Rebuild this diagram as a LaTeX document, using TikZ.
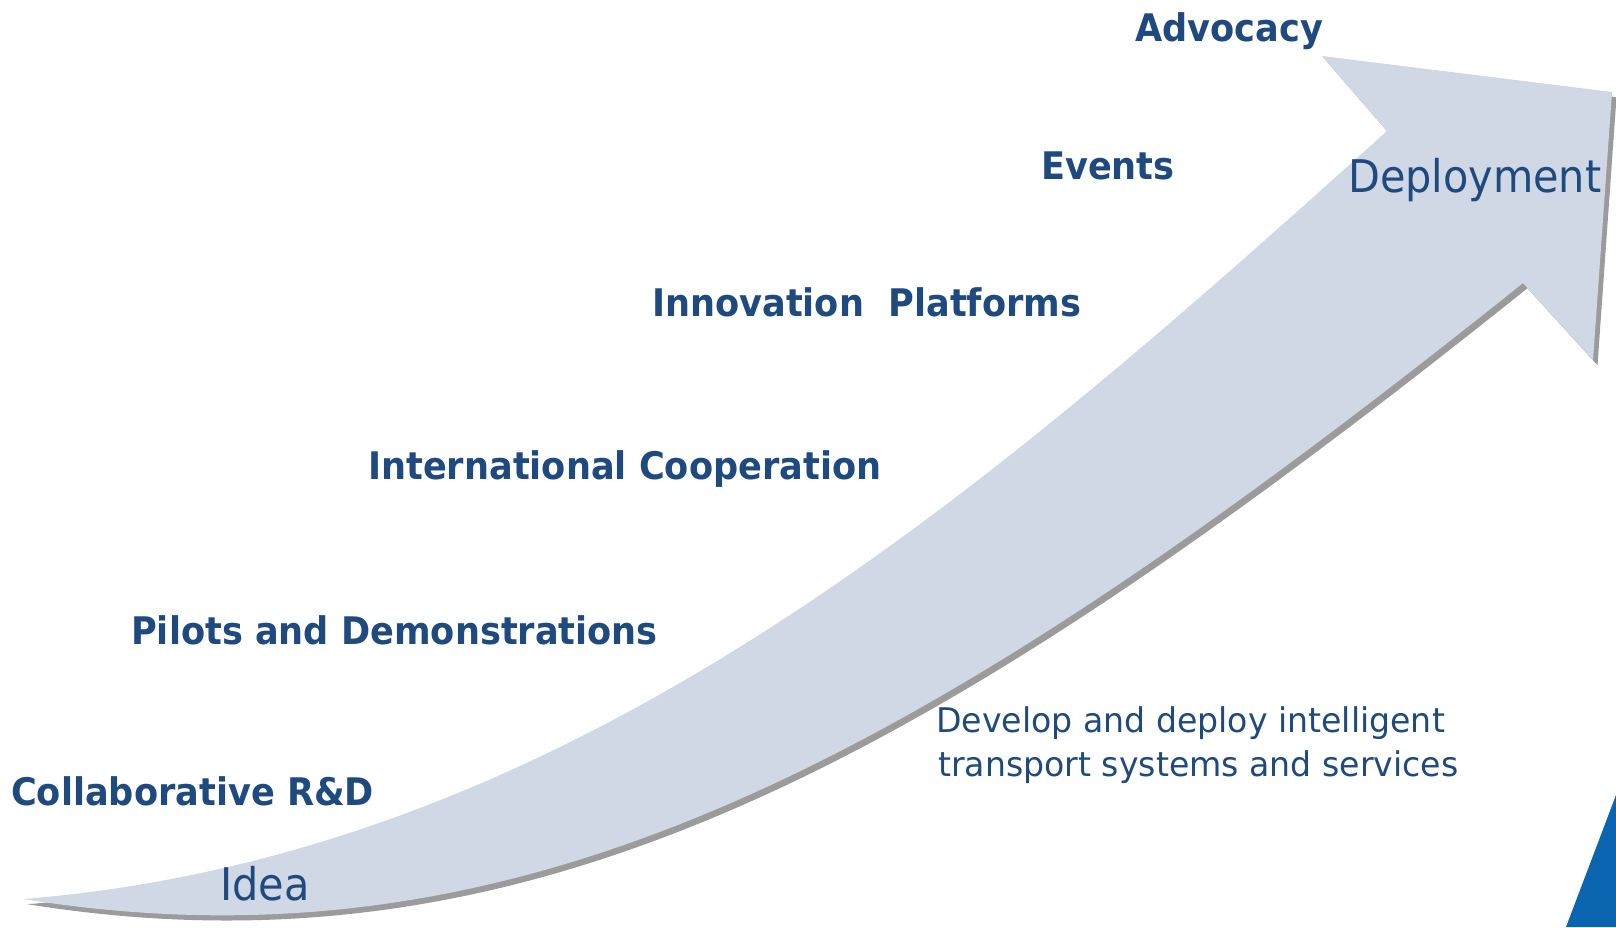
\documentclass[tikz,border=0pt]{standalone}
\usepackage{fontspec}
\setmainfont{DejaVu Sans}
\newfontfamily\lblfont[FakeStretch=0.925]{DejaVu Sans}
\newfontfamily\bigfont[FakeStretch=0.92]{DejaVu Sans}
\newfontfamily\notefont[FakeStretch=0.975]{DejaVu Sans}
\definecolor{txtblue}{RGB}{31,74,127}
\definecolor{arrowfill}{RGB}{208,216,230}
\definecolor{shadowgray}{RGB}{155,155,155}
\definecolor{cornerblue}{RGB}{11,100,175}
\newcommand\myarrowshape{(23,899) .. controls (573,855) and (987,491) .. (1387,131) -- (1322,56) -- (1612,92) -- (1593,360) -- (1523,283) .. controls (923,763) and (523,979) .. (23,899) -- cycle}
\begin{document}
\begin{tikzpicture}[x=1pt,y=-1pt,
  lbl/.style={anchor=base west, inner sep=0pt, text=txtblue, font=\lblfont\bfseries\fontsize{38}{40}\selectfont},
  big/.style={anchor=base west, inner sep=0pt, text=txtblue, font=\bigfont\fontsize{45}{48}\selectfont},
  note/.style={anchor=base west, inner sep=0pt, text=txtblue, font=\notefont\fontsize{34}{36}\selectfont}]
\useasboundingbox (0,0) rectangle (1616,927);
\fill[white] (0,0) rectangle (1616,927);
\fill[shadowgray, shift={(4.5,5.2)}] \myarrowshape;
\fill[arrowfill] \myarrowshape;
\fill[cornerblue] (1616,795) -- (1616,927) -- (1566,927) -- cycle;
\node[lbl] (adv) at (1135,41) {Advocacy};
\node[lbl] (evt) at (1041,179) {Events};
\node[lbl] (inn) at (652,316) {Innovation~~Platforms};
\node[lbl] (intl) at (368,479) {International Cooperation};
\node[lbl] (pil) at (131,644) {Pilots and Demonstrations};
\node[lbl] (col) at (11,805) {Collaborative R\&D};
\node[big] (idea) at (220,900) {Idea};
\node[big] (dep) at (1348,192) {Deployment};
\node[note] (dev1) at (936,732) {Develop and deploy intelligent};
\node[note] (dev2) at (938,776) {transport systems and services};
\end{tikzpicture}
\end{document}
